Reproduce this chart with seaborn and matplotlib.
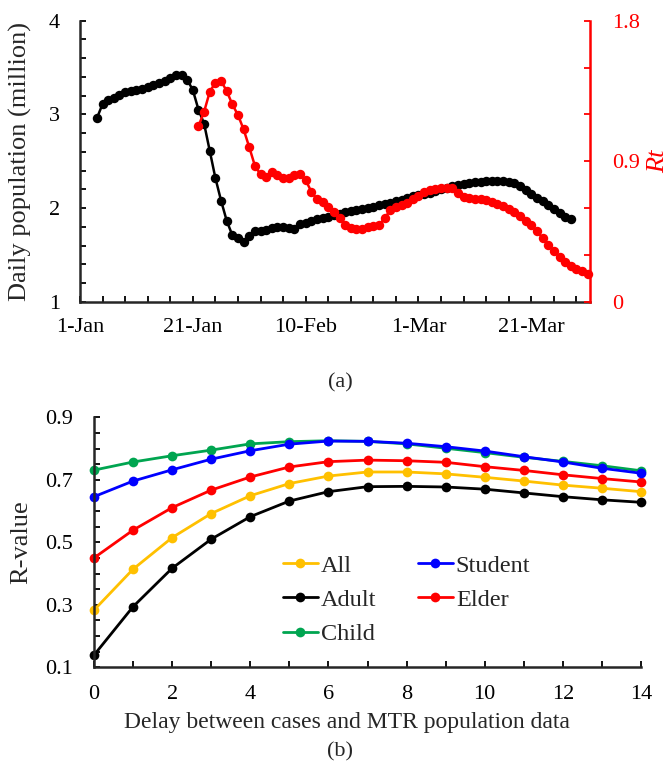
import numpy as np
import pandas as pd
import matplotlib
matplotlib.use('Agg')
import matplotlib.pyplot as plt
from matplotlib.ticker import MultipleLocator, FixedLocator
import seaborn as sns

# (a) daily MTR population (million), one value per day from 4-Jan-2020
pop_start = '2020-01-04'
pop_million = [2.96, 3.11, 3.15, 3.18, 3.21, 3.235, 3.25, 3.26, 3.27, 3.29,
               3.31, 3.33, 3.36, 3.39, 3.425, 3.42, 3.37, 3.26, 3.05, 2.90,
               2.61, 2.32, 2.08, 1.865, 1.71, 1.68, 1.635, 1.70, 1.755, 1.75,
               1.765, 1.785, 1.80, 1.80, 1.785, 1.775, 1.83, 1.835, 1.86, 1.88,
               1.89, 1.905, 1.925, 1.935, 1.955, 1.97, 1.98, 1.99, 2.00, 2.015,
               2.03, 2.04, 2.055, 2.075, 2.09, 2.105, 2.125, 2.14, 2.15, 2.165,
               2.18, 2.20, 2.215, 2.235, 2.25, 2.26, 2.265, 2.275, 2.28, 2.29,
               2.29, 2.29, 2.285, 2.28, 2.265, 2.235, 2.19, 2.15, 2.11, 2.07,
               2.03, 1.985, 1.945, 1.905, 1.885]

# (a) Rt, one value per day from 22-Jan-2020
rt_start = '2020-01-22'
rt_values = [1.125, 1.217, 1.345, 1.403, 1.414, 1.35, 1.264, 1.196, 1.104, 0.99,
             0.871, 0.815, 0.797, 0.833, 0.811, 0.794, 0.795, 0.813, 0.816, 0.779,
             0.705, 0.656, 0.641, 0.604, 0.577, 0.534, 0.491, 0.474, 0.466, 0.466,
             0.48, 0.485, 0.491, 0.534, 0.587, 0.604, 0.617, 0.630, 0.656, 0.68,
             0.70, 0.715, 0.72, 0.726, 0.73, 0.726, 0.698, 0.673, 0.662, 0.66,
             0.658, 0.651, 0.638, 0.626, 0.611, 0.594, 0.575, 0.549, 0.519, 0.489,
             0.451, 0.408, 0.365, 0.325, 0.288, 0.256, 0.228, 0.209, 0.194, 0.175]

date_labels = ['1-Jan', '21-Jan', '10-Feb', '1-Mar', '21-Mar']

# (b) R-value vs delay
delay_days = list(range(15))
r_all     = [0.283, 0.414, 0.515, 0.592, 0.649, 0.688, 0.712, 0.725, 0.725, 0.719, 0.708, 0.696, 0.683, 0.673, 0.662]
r_student = [0.646, 0.696, 0.732, 0.766, 0.793, 0.814, 0.824, 0.823, 0.817, 0.806, 0.792, 0.774, 0.757, 0.737, 0.721]
r_adult   = [0.139, 0.294, 0.417, 0.510, 0.582, 0.632, 0.662, 0.678, 0.679, 0.677, 0.670, 0.658, 0.646, 0.636, 0.628]
r_elder   = [0.450, 0.539, 0.611, 0.667, 0.709, 0.741, 0.758, 0.763, 0.761, 0.756, 0.742, 0.730, 0.716, 0.704, 0.693]
r_child   = [0.731, 0.757, 0.777, 0.795, 0.815, 0.822, 0.825, 0.823, 0.815, 0.801, 0.787, 0.772, 0.759, 0.745, 0.729]

sns.set_theme(style='ticks')
plt.rcParams['font.family'] = ['Liberation Serif', 'DejaVu Serif']

TICK_FS = 16
LAB_FS = 19

pop_dates = pd.date_range(pop_start, periods=len(pop_million), freq='D')
rt_dates = pd.date_range(rt_start, periods=len(rt_values), freq='D')

fig = plt.figure(figsize=(6.71, 7.65), dpi=100)

# ---------------- (a) ----------------
ax1 = fig.add_axes([80/671, 1-301.7/765, 510/671, 281/765])
ax2 = ax1.twinx()

sns.lineplot(x=pop_dates, y=pop_million, ax=ax1, color='black', marker='o',
             markersize=6.8, markeredgewidth=0, linewidth=1.8)
sns.lineplot(x=rt_dates, y=rt_values, ax=ax2, color='#FF0000', marker='o',
             markersize=6.8, markeredgewidth=0, linewidth=1.8, clip_on=False)

x0 = pd.Timestamp('2020-01-01')
ax1.set_xlim(x0, x0 + pd.Timedelta(days=90.4))
ax1.set_ylim(1, 4)
ax2.set_ylim(0, 1.8)

major_dates = pd.date_range('2020-01-01', periods=len(date_labels), freq='20D')
minor_dates = pd.date_range('2020-01-01', '2020-03-31', freq='4D')
ax1.set_xticks(major_dates, date_labels)
ax1.set_xticks(minor_dates, minor=True)
ax1.set_yticks([1, 2, 3, 4], ['1', '2', '3', '4'])
ax1.yaxis.set_minor_locator(MultipleLocator(0.2))
ax2.set_yticks([0, 0.9, 1.8], ['0', '0.9', '1.8'])
ax2.yaxis.set_minor_locator(MultipleLocator(0.3))

for sp in ['top', 'right']:
    ax1.spines[sp].set_visible(False)
for sp in ['top', 'left', 'bottom']:
    ax2.spines[sp].set_visible(False)
ax1.spines['left'].set_linewidth(1.8)
ax1.spines['bottom'].set_linewidth(1.8)
ax2.spines['right'].set_linewidth(1.8)
ax2.spines['right'].set_color('#FF0000')

ax1.tick_params(axis='both', which='both', direction='in', length=4.5, width=1.3,
                labelsize=TICK_FS, colors='black')
ax1.tick_params(axis='x', which='both', pad=11.5)
ax1.tick_params(axis='y', which='both', pad=14.4)
ax2.tick_params(axis='y', which='both', direction='in', length=4.5, width=1.3,
                labelsize=TICK_FS, colors='#FF0000', pad=15.8)

ax1.set_xlabel('')
ax1.set_ylabel('Daily population (million)', fontsize=LAB_FS)
ax1.yaxis.set_label_coords(-0.094, 0.5)
ax2.set_ylabel('Rt', fontsize=LAB_FS, color='#FF0000', fontstyle='italic')
ax2.yaxis.set_label_coords(1.112, 0.5)

fig.text(340/671, 1-383/765, '(a)', ha='center', va='center', fontsize=TICK_FS)

# ---------------- (b) ----------------
ax3 = fig.add_axes([94/671, 1-667.3/765, 547/671, 250/765])

series = {'All': (r_all, '#FFC000'), 'Adult': (r_adult, 'black'),
          'Child': (r_child, '#00A550'), 'Elder': (r_elder, '#FF0000'),
          'Student': (r_student, '#0000FF')}
for name, (vals, col) in series.items():
    sns.lineplot(x=delay_days, y=vals, ax=ax3, color=col, marker='o',
                 markersize=7, markeredgewidth=0, linewidth=2.0,
                 label=name, clip_on=False)

ax3.set_xlim(0, 14)
ax3.set_ylim(0.1, 0.9)
ax3.set_xticks(range(0, 15, 2), [str(v) for v in range(0, 15, 2)])
ax3.xaxis.set_minor_locator(MultipleLocator(1))
ax3.set_yticks([0.1, 0.3, 0.5, 0.7, 0.9], ['0.1', '0.3', '0.5', '0.7', '0.9'])
ax3.yaxis.set_minor_locator(MultipleLocator(0.05))
for sp in ['top', 'right']:
    ax3.spines[sp].set_visible(False)
ax3.spines['left'].set_linewidth(1.8)
ax3.spines['bottom'].set_linewidth(1.8)
ax3.tick_params(axis='both', which='both', direction='in', length=4.5, width=1.3,
                labelsize=TICK_FS, colors='black')
ax3.tick_params(axis='x', which='both', pad=12.5)
ax3.tick_params(axis='y', which='both', pad=15)

ax3.set_xlabel('Delay between cases and MTR population data', fontsize=17)
ax3.xaxis.set_label_coords(0.4625, -0.179)
ax3.set_ylabel('R-value', fontsize=LAB_FS)
ax3.yaxis.set_label_coords(-0.113, 0.5)

handles, labels = ax3.get_legend_handles_labels()
order = ['All', 'Adult', 'Child', 'Student', 'Elder']
hmap = dict(zip(labels, handles))
ax3.legend([hmap[k] for k in order], order, ncol=2, frameon=False,
           loc='upper left', bbox_to_anchor=(0.345, 0.45), fontsize=17.5,
           handlelength=1.45, handletextpad=0.12, columnspacing=1.7,
           labelspacing=0.5, borderpad=0, borderaxespad=0)

fig.text(340/671, 1-752/765, '(b)', ha='center', va='center', fontsize=TICK_FS)

fig.savefig('out.png', dpi=100)
